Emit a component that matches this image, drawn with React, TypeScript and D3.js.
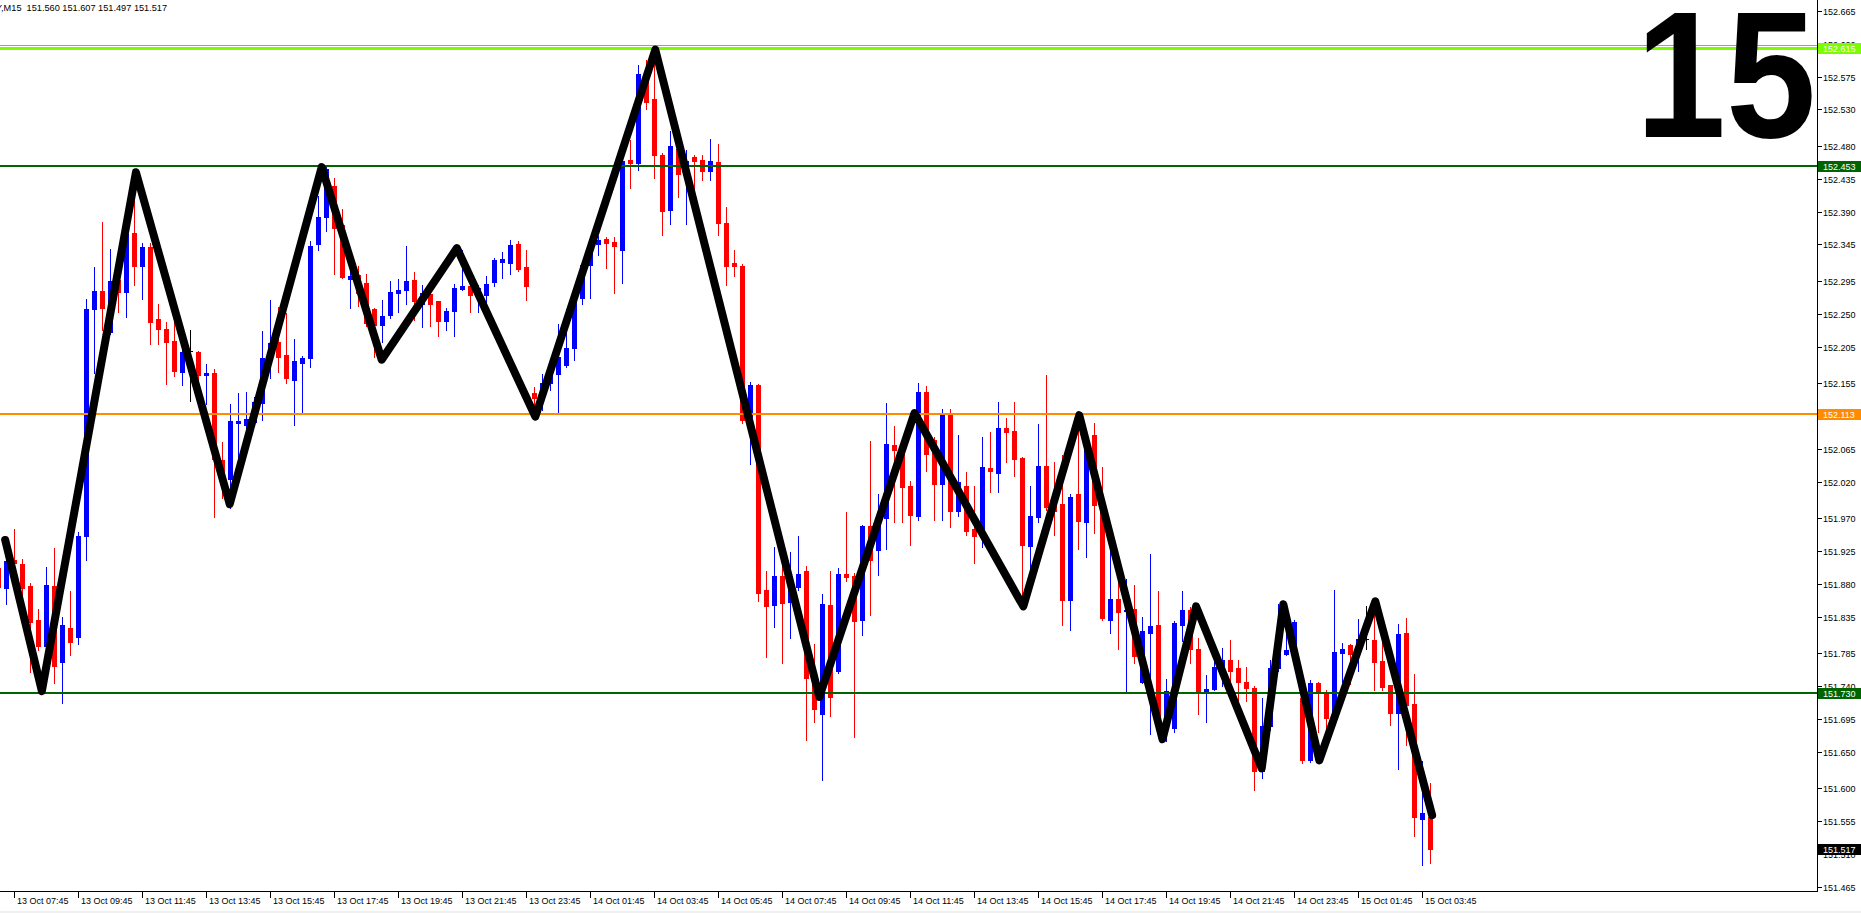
import React from 'react';
import * as d3 from 'd3';

const WIDTH = 1861;
const HEIGHT = 913;
const PLOT_RIGHT = 1817;
const PLOT_BOTTOM = 891;
const FONT = '"Liberation Sans", Arial, sans-serif';

// First bar index (partially visible at left edge); bar 1 = 13 Oct 07:45, M15 bars
const firstBar = -1;
const lastBar = 178;

const opens = [
  151.901, 151.874, 151.912, 151.907, 151.877, 151.831, 151.795, 151.877, 151.773, 151.820,
  151.807, 151.945, 152.256, 152.281, 152.225, 152.296, 152.280, 152.361, 152.316, 152.342,
  152.243, 152.229, 152.213, 152.170, 152.199, 152.197, 152.166, 152.169, 152.050, 152.024,
  152.101, 152.097, 152.102, 152.128, 152.190, 152.211, 152.193, 152.159, 152.183, 152.190,
  152.346, 152.383, 152.425, 152.371, 152.298, 152.303, 152.292, 152.257, 152.234, 152.248,
  152.279, 152.283, 152.296, 152.263, 152.277, 152.268, 152.240, 152.254, 152.284, 152.288,
  152.273, 152.276, 152.294, 152.321, 152.320, 152.346, 152.314, 152.141, 152.136, 152.155,
  152.168, 152.180, 152.203, 152.272, 152.317, 152.346, 152.352, 152.349, 152.337, 152.461,
  152.457, 152.575, 152.545, 152.467, 152.392, 152.476, 152.450, 152.465, 152.461, 152.446,
  152.458, 152.375, 152.319, 152.316, 152.108, 152.152, 151.871, 151.851, 151.890, 151.855,
  151.876, 151.897, 151.753, 151.701, 151.851, 151.760, 151.894, 151.891, 151.830, 151.959,
  151.926, 151.970, 152.070, 152.063, 152.014, 151.973, 152.143, 152.077, 152.017, 152.111,
  151.980, 152.014, 151.955, 151.949, 152.039, 152.032, 152.094, 152.089, 152.053, 151.932,
  151.972, 152.041, 151.989, 151.989, 151.858, 152.003, 151.964, 152.084, 151.995, 151.831,
  151.859, 151.843, 151.845, 151.746, 151.813, 151.823, 151.684, 151.683, 151.824, 151.844,
  151.791, 151.730, 151.736, 151.766, 151.776, 151.764, 151.746, 151.737, 151.623, 151.685,
  151.764, 151.784, 151.789, 151.723, 151.638, 151.744, 151.732, 151.696, 151.785, 151.796,
  151.796, 151.804, 151.803, 151.774, 151.741, 151.703, 151.813, 151.715, 151.557, 151.560,
];
const highs = [
  151.905, 151.919, 151.955, 151.914, 151.881, 151.845, 151.903, 151.929, 151.834, 151.870,
  151.951, 152.270, 152.314, 152.376, 152.339, 152.304, 152.362, 152.447, 152.347, 152.347,
  152.264, 152.239, 152.240, 152.203, 152.228, 152.199, 152.181, 152.174, 152.074, 152.126,
  152.141, 152.143, 152.136, 152.227, 152.269, 152.259, 152.251, 152.215, 152.192, 152.350,
  152.411, 152.453, 152.436, 152.394, 152.315, 152.315, 152.304, 152.258, 152.269, 152.295,
  152.298, 152.343, 152.307, 152.289, 152.283, 152.268, 152.258, 152.291, 152.337, 152.290,
  152.289, 152.302, 152.326, 152.335, 152.351, 152.350, 152.337, 152.149, 152.168, 152.177,
  152.236, 152.256, 152.278, 152.319, 152.349, 152.357, 152.355, 152.355, 152.474, 152.488,
  152.591, 152.598, 152.615, 152.471, 152.500, 152.484, 152.475, 152.468, 152.467, 152.490,
  152.483, 152.396, 152.337, 152.318, 152.156, 152.154, 151.897, 151.930, 151.905, 151.924,
  151.946, 151.905, 151.798, 151.866, 151.898, 151.902, 151.978, 151.895, 151.961, 152.075,
  152.003, 152.128, 152.096, 152.067, 152.021, 152.155, 152.151, 152.081, 152.119, 152.120,
  152.084, 152.033, 152.014, 152.081, 152.088, 152.129, 152.107, 152.129, 152.054, 152.014,
  152.099, 152.166, 152.047, 152.057, 152.003, 152.091, 152.082, 152.100, 152.040, 151.931,
  151.887, 151.887, 151.878, 151.834, 151.921, 151.870, 151.750, 151.829, 151.870, 151.848,
  151.806, 151.755, 151.789, 151.792, 151.803, 151.775, 151.766, 151.740, 151.723, 151.775,
  151.852, 151.833, 151.831, 151.727, 151.748, 151.746, 151.735, 151.872, 151.799, 151.798,
  151.832, 151.849, 151.857, 151.803, 151.741, 151.825, 151.833, 151.756, 151.637, 151.607,
];
const lows = [
  151.868, 151.852, 151.892, 151.857, 151.759, 151.789, 151.789, 151.744, 151.717, 151.783,
  151.797, 151.912, 152.169, 152.228, 152.222, 152.252, 152.246, 152.289, 152.270, 152.209,
  152.209, 152.154, 152.165, 152.153, 152.131, 152.156, 152.126, 151.972, 151.997, 151.984,
  152.046, 152.076, 152.101, 152.105, 152.162, 152.170, 152.155, 152.097, 152.113, 152.177,
  152.337, 152.363, 152.304, 152.299, 152.258, 152.261, 152.233, 152.191, 152.212, 152.244,
  152.253, 152.263, 152.242, 152.232, 152.233, 152.220, 152.228, 152.220, 152.283, 152.253,
  152.253, 152.263, 152.288, 152.299, 152.304, 152.309, 152.269, 152.112, 152.118, 152.145,
  152.113, 152.177, 152.187, 152.263, 152.271, 152.330, 152.313, 152.278, 152.292, 152.422,
  152.447, 152.530, 152.436, 152.358, 152.373, 152.410, 152.373, 152.419, 152.434, 152.434,
  152.358, 152.290, 152.302, 152.101, 152.044, 151.857, 151.779, 151.821, 151.772, 151.806,
  151.872, 151.666, 151.690, 151.611, 151.699, 151.758, 151.884, 151.670, 151.810, 151.837,
  151.892, 151.927, 151.964, 151.964, 151.933, 151.967, 152.035, 151.967, 151.968, 151.958,
  151.973, 151.947, 151.909, 151.931, 152.006, 152.006, 152.047, 152.028, 151.857, 151.894,
  151.965, 151.981, 151.947, 151.823, 151.817, 151.928, 151.917, 151.949, 151.830, 151.812,
  151.791, 151.733, 151.771, 151.744, 151.674, 151.670, 151.665, 151.677, 151.802, 151.772,
  151.702, 151.691, 151.735, 151.740, 151.745, 151.716, 151.719, 151.597, 151.614, 151.680,
  151.761, 151.782, 151.782, 151.635, 151.636, 151.677, 151.680, 151.694, 151.746, 151.743,
  151.760, 151.790, 151.734, 151.734, 151.687, 151.626, 151.659, 151.535, 151.494, 151.497,
];
const closes = [
  151.875, 151.911, 151.909, 151.874, 151.828, 151.795, 151.878, 151.768, 151.823, 151.800,
  151.945, 152.256, 152.281, 152.258, 152.295, 152.280, 152.359, 152.315, 152.342, 152.239,
  152.229, 152.212, 152.172, 152.197, 152.199, 152.166, 152.169, 152.051, 152.024, 152.103,
  152.103, 152.106, 152.129, 152.190, 152.210, 152.191, 152.162, 152.185, 152.189, 152.343,
  152.382, 152.448, 152.368, 152.301, 152.302, 152.278, 152.237, 152.234, 152.247, 152.280,
  152.283, 152.295, 152.268, 152.278, 152.263, 152.240, 152.254, 152.285, 152.288, 152.276,
  152.285, 152.291, 152.324, 152.325, 152.344, 152.311, 152.288, 152.135, 152.155, 152.168,
  152.191, 152.203, 152.276, 152.317, 152.340, 152.351, 152.347, 152.343, 152.460, 152.457,
  152.579, 152.540, 152.468, 152.391, 152.480, 152.441, 152.460, 152.460, 152.446, 152.459,
  152.375, 152.316, 152.315, 152.104, 152.152, 151.867, 151.850, 151.890, 151.853, 151.874,
  151.893, 151.751, 151.709, 151.852, 151.725, 151.893, 151.889, 151.829, 151.959, 151.912,
  151.963, 152.071, 152.064, 152.013, 151.974, 152.143, 152.058, 152.017, 152.111, 151.980,
  152.020, 151.953, 151.945, 152.040, 152.035, 152.093, 152.088, 152.051, 151.933, 151.973,
  152.042, 151.985, 151.980, 151.858, 151.999, 151.966, 152.081, 151.988, 151.833, 151.859,
  151.842, 151.844, 151.781, 151.815, 151.822, 151.684, 151.733, 151.826, 151.844, 151.791,
  151.730, 151.736, 151.766, 151.775, 151.761, 151.746, 151.737, 151.623, 151.685, 151.764,
  151.789, 151.789, 151.828, 151.638, 151.744, 151.732, 151.696, 151.787, 151.791, 151.784,
  151.805, 151.804, 151.773, 151.739, 151.703, 151.811, 151.714, 151.561, 151.566, 151.517,
];

// Zigzag overlay (bar position, price)
const zigzagBars = [-0.16, 4.42, 16.18, 27.9, 39.4, 46.9, 56.3, 66.1, 81.1, 101.6, 113.5, 127.1, 134.1, 144.5, 148.7, 156.9, 159.6, 164.1, 171.1, 178.2];
const zigzagPrices = [151.940, 151.733, 152.444, 151.989, 152.451, 152.187, 152.340, 152.109, 152.612, 151.725, 152.114, 151.849, 152.111, 151.667, 151.849, 151.627, 151.852, 151.638, 151.856, 151.563];

// Horizontal levels (drawn in this order)
const levelPrices = [152.618, 152.614, 152.453, 152.113, 151.730];
const levelColors = ['#FF8C00', '#7CFC00', '#006400', '#FF8C00', '#006400'];
const levelWidths = [1, 3, 2, 2, 2];
const levelLabels = ['', '152.615', '152.453', '152.113', '151.730'];

const bidPrice = 151.517;
const bidLabel = '151.517';

const priceTicks = [
  152.665, 152.620, 152.575, 152.530, 152.480, 152.435, 152.390, 152.345, 152.295,
  152.250, 152.205, 152.155, 152.110, 152.065, 152.020, 151.970, 151.925, 151.880,
  151.835, 151.785, 151.740, 151.695, 151.650, 151.600, 151.555, 151.510, 151.465,
];

const timeLabelBars = [1, 9, 17, 25, 33, 41, 49, 57, 65, 73, 81, 89, 97, 105, 113, 121, 129, 137, 145, 153, 161, 169, 177];
const timeLabels = [
  '13 Oct 07:45', '13 Oct 09:45', '13 Oct 11:45', '13 Oct 13:45', '13 Oct 15:45', '13 Oct 17:45',
  '13 Oct 19:45', '13 Oct 21:45', '13 Oct 23:45', '14 Oct 01:45', '14 Oct 03:45', '14 Oct 05:45',
  '14 Oct 07:45', '14 Oct 09:45', '14 Oct 11:45', '14 Oct 13:45', '14 Oct 15:45', '14 Oct 17:45',
  '14 Oct 19:45', '14 Oct 21:45', '14 Oct 23:45', '15 Oct 01:45', '15 Oct 03:45',
];

const headerText = 'USDJPY,M15  151.560 151.607 151.497 151.517';
const bigNumber = '15';

export default function App() {
  const x = d3.scaleLinear().domain([firstBar, lastBar]).range([-1.5, 1430.5]);
  const y = d3.scaleLinear().domain([151.459, 152.680]).range([PLOT_BOTTOM, 0]);

  const zz = d3
    .line<number>()
    .x((_, k) => x(zigzagBars[k]))
    .y((p) => y(p));

  return (
    <svg
      width={WIDTH}
      height={HEIGHT}
      style={{ position: 'absolute', left: 0, top: 0, display: 'block' }}
      fontFamily={FONT}
    >
      <rect x={0} y={0} width={WIDTH} height={HEIGHT} fill="#ffffff" />
      <rect x={0} y={911} width={WIDTH} height={2} fill="#f0f0f0" />

      {/* candles */}
      <g shapeRendering="crispEdges">
        {opens.map((o, k) => {
          const i = firstBar + k;
          const c = closes[k];
          const h = highs[k];
          const l = lows[k];
          const color = c > o ? '#0000FF' : c < o ? '#FF0000' : '#000000';
          const cx = Math.floor(x(i));
          const yTop = Math.round(y(Math.max(o, c)));
          const yBot = Math.round(y(Math.min(o, c)));
          const yH = Math.round(y(h));
          const yL = Math.round(y(l));
          return (
            <g key={k}>
              <rect x={cx} y={yH} width={1} height={Math.max(1, yL - yH + 1)} fill={color} />
              <rect x={cx - 2} y={yTop} width={5} height={Math.max(1, yBot - yTop + 1)} fill={color} />
            </g>
          );
        })}
      </g>

      {/* horizontal levels */}
      <g shapeRendering="crispEdges">
        {levelPrices.map((p, k) => {
          const w = levelWidths[k];
          const top = Math.round(y(p) - w / 2);
          return <rect key={k} x={0} y={top} width={PLOT_RIGHT} height={w} fill={levelColors[k]} />;
        })}
      </g>

      {/* zigzag */}
      <path
        d={zz(zigzagPrices) || ''}
        fill="none"
        stroke="#000000"
        strokeWidth={8}
        strokeLinejoin="round"
        strokeLinecap="round"
      />

      {/* big number */}
      <text
        transform="translate(1816,137) scale(0.9,1)"
        x={0}
        y={0}
        textAnchor="end"
        fontSize={180}
        fontWeight="bold"
        fill="#000000"
      >
        {bigNumber}
      </text>

      {/* header */}
      <text x={-34} y={11} fontSize={9.2} fill="#000000" style={{ whiteSpace: 'pre' }}>
        {headerText}
      </text>

      {/* axes */}
      <g shapeRendering="crispEdges">
        <rect x={PLOT_RIGHT} y={0} width={1} height={PLOT_BOTTOM + 1} fill="#000000" />
        <rect x={0} y={PLOT_BOTTOM} width={PLOT_RIGHT + 1} height={1} fill="#000000" />
      </g>

      {/* price axis */}
      <g>
        {priceTicks.map((p) => {
          const yy = Math.round(y(p));
          return (
            <g key={p}>
              <rect x={PLOT_RIGHT + 1} y={yy} width={4} height={1} fill="#000000" shapeRendering="crispEdges" />
              <text x={1823} y={yy + 3.5} fontSize={9} fill="#000000">
                {p.toFixed(3)}
              </text>
            </g>
          );
        })}
      </g>

      {/* level labels */}
      <g>
        {levelPrices.map((p, k) =>
          levelLabels[k] ? (
            <g key={k}>
              <rect
                x={PLOT_RIGHT + 1}
                y={Math.round(y(p)) - 5}
                width={WIDTH - PLOT_RIGHT - 1}
                height={11}
                fill={levelColors[k]}
                shapeRendering="crispEdges"
              />
              <text x={1823} y={Math.round(y(p)) + 3.5} fontSize={9} fill="#ffffff">
                {levelLabels[k]}
              </text>
            </g>
          ) : null
        )}
        <rect
          x={PLOT_RIGHT + 1}
          y={Math.round(y(bidPrice)) - 5}
          width={WIDTH - PLOT_RIGHT - 1}
          height={11}
          fill="#000000"
          shapeRendering="crispEdges"
        />
        <text x={1823} y={Math.round(y(bidPrice)) + 3.5} fontSize={9} fill="#ffffff">
          {bidLabel}
        </text>
      </g>

      {/* time axis */}
      <g>
        {timeLabelBars.map((b, k) => {
          const xx = Math.floor(x(b));
          return (
            <g key={b}>
              <rect x={xx} y={PLOT_BOTTOM + 1} width={1} height={6} fill="#000000" shapeRendering="crispEdges" />
              <text x={xx + 3} y={904} fontSize={9} fill="#000000">
                {timeLabels[k]}
              </text>
            </g>
          );
        })}
      </g>
    </svg>
  );
}
